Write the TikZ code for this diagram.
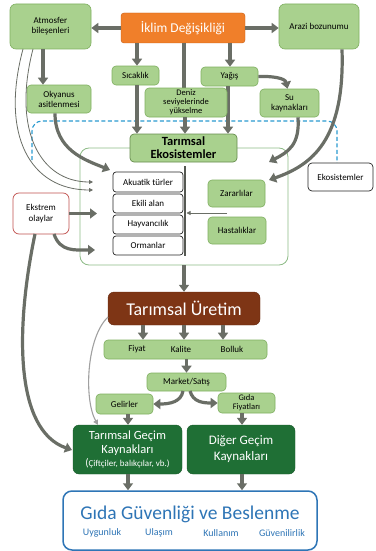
\documentclass[tikz,border=0pt]{standalone}
\usepackage{fontspec}
\setmainfont{Carlito}
\usetikzlibrary{arrows.meta,calc}
\definecolor{lgreen}{HTML}{A9D18E}
\definecolor{lgreenB}{HTML}{7FAF60}
\definecolor{dgreen}{HTML}{1F6F35}
\definecolor{orangeF}{HTML}{F07F2A}
\definecolor{orangeB}{HTML}{C55A11}
\definecolor{brownF}{HTML}{7E3515}
\definecolor{arrG}{HTML}{6A6E66}
\definecolor{thinG}{HTML}{A0A0A0}
\definecolor{blueB}{HTML}{2E75B6}
\definecolor{dashB}{HTML}{2A9AD0}
\definecolor{contB}{HTML}{8DBB86}
\definecolor{redB}{HTML}{C0504D}
\tikzset{
  lg/.style={draw=lgreenB, fill=lgreen, rounded corners=4pt, line width=0.6pt, inner sep=0pt, align=center, font=\fontsize{9}{10}\selectfont},
  wb/.style={draw=black!85, fill=white, rounded corners=3pt, line width=0.7pt, inner sep=0pt, align=center, font=\fontsize{9}{10}\selectfont},
  dg/.style={draw=dgreen!80!black, fill=dgreen, rounded corners=6pt, inner sep=0pt, align=center, text=white},
  ar/.style={draw=arrG, line width=3.2pt, -{Triangle[length=7pt,width=10pt]}},
  arn/.style={draw=arrG, line width=3.2pt},
  thin/.style={draw=arrG, line width=0.8pt, -{Triangle[length=4pt,width=4pt]}},
  thinl/.style={draw=thinG, line width=1.1pt, -{Triangle[length=5pt,width=5pt]}},
}
\begin{document}
\begin{tikzpicture}[x=1pt,y=-1pt]
\useasboundingbox (0,0) rectangle (375,551);
% dashed region
\draw[dashB, line width=1.1pt, dash pattern=on 4pt off 2.5pt, rounded corners=10pt] (32,160) -- (32,121) -- (337,121) -- (337,163);
% container
\node[draw=contB, fill=white, rounded corners=9pt, line width=0.8pt, minimum width=208pt, minimum height=117pt, inner sep=0pt] (cont) at (184,206.5) {};

% top nodes
\node[draw=orangeB, fill=orangeF, rounded corners=3pt, inner sep=0pt, minimum width=124pt, minimum height=30pt, text=white, font=\fontsize{13.5}{14}\selectfont] (iklim) at (183,28) {İklim Değişikliği};
\node[lg, minimum width=81pt, minimum height=45pt, rounded corners=6pt] (atm) at (50.5,26.5) {Atmosfer\\bileşenleri};
\node[lg, minimum width=80pt, minimum height=45pt, rounded corners=6pt] (arazi) at (319,26.5) {Arazi bozunumu};
\node[lg, minimum width=47pt, minimum height=19pt] (sic) at (135.5,75.5) {Sıcaklık};
\node[lg, minimum width=57pt, minimum height=19pt] (yag) at (229.5,76.5) {Yağış};
\node[lg, minimum width=64pt, minimum height=28pt] (okyanus) at (59,99) {Okyanus\\asitlenmesi};
\node[lg, minimum width=59pt, minimum height=28pt] (su) at (289.5,103) {Su\\kaynakları};

% arrows top
\draw[ar] (iklim.west) -- (iklim.west -| atm.east);
\draw[ar] (iklim.east) -- (iklim.east -| arazi.west);
\coordinate (sicTop) at (137,43);
\draw[ar] (sicTop) -- (sicTop |- sic.north);
\coordinate (yagTop) at (230,43);
\draw[ar] (yagTop) -- (yagTop |- yag.north);
\coordinate (denTop) at (184,43);
\draw[arn] (denTop) -- (184,95);
\coordinate (okTop) at (43,49);
\draw[ar] (okTop) -- (okTop |- okyanus.north);
\draw[ar] (yag.east) .. controls (272,76) and (285,78) .. ([xshift=-2pt]su.north);

\coordinate (sicB) at (137,85);
\coordinate (yagB) at (228,86);
\coordinate (denB) at (185,110);
\node[draw=lgreenB!80!black, fill=lgreen, rounded corners=4pt, line width=0.7pt, inner sep=0pt, minimum width=107pt, minimum height=28pt, align=center, font=\fontsize{12.5}{13}\selectfont\bfseries] (tareko) at (183.5,148) {Tarımsal\\Ekosistemler};
\draw[ar] (sicB) -- (sicB |- tareko.north);
\draw[ar] (yagB) -- (yagB |- tareko.north);
\node[lg, minimum width=82pt, minimum height=29pt, font=\fontsize{8.5}{9}\selectfont] (deniz) at (186,102.5) {Deniz\\seviyelerinde\\yükselme};
\draw[ar] (deniz.south -| denB) -- (denB |- tareko.north);

% Ekosistemler box
\node[wb, rounded corners=4pt, minimum width=65pt, minimum height=28pt] (ekos) at (340.5,177) {Ekosistemler};

% inner boxes
\node[wb, minimum width=70pt, minimum height=20pt] (aku) at (148,182) {Akuatik türler};
\node[wb, minimum width=70pt, minimum height=19pt] (ekili) at (148,203.5) {Ekili alan};
\node[wb, minimum width=70pt, minimum height=19pt] (hay) at (148,224.5) {Hayvancılık};
\node[wb, minimum width=70pt, minimum height=19pt] (orm) at (148,245.5) {Ormanlar};
\coordinate (vT) at (185,166);
\coordinate (vB) at (185,256);
\draw[arrG!80!black, line width=1.2pt] (vT) -- (vB);
\node[lg, minimum width=57pt, minimum height=27pt] (zarar) at (236.5,193.5) {Zararlılar};
\node[lg, minimum width=58pt, minimum height=27pt] (hasta) at (237,230.5) {Hastalıklar};
\coordinate (zhA) at (227,213);
\coordinate (zhB) at (186.5,213);
\draw[thin] (zhA) -- (zhB);

% Ekstrem
\node[draw=redB, fill=white, rounded corners=6pt, line width=0.7pt, inner sep=0pt, minimum width=56pt, minimum height=41pt, align=center, font=\fontsize{9}{11}\selectfont] (ekstrem) at (41,213.5) {Ekstrem\\olaylar};

% curves into container
\coordinate (okE) at (110,170);
\draw[ar] ([xshift=-4pt]okyanus.south) .. controls (55,150) and (85,160) .. (okE);
\coordinate (atA) at (93,182);
\coordinate (atB) at (93,190);
\draw[thin] (33,49) .. controls (12,130) and (40,182) .. (atA);
\draw[thin] (23,49) .. controls (0,135) and (30,190) .. (atB);
\coordinate (suE) at (269,162);
\coordinate (arE) at (269,180);
\draw[ar] ([xshift=8.5pt]su.south) .. controls (300,145) and (288,152) .. (suE);
\draw[ar] ([xshift=23pt]arazi.south) .. controls (345,140) and (312,165) .. (arE);
\coordinate (exA) at (97,213.5);
\draw[ar] (ekstrem.east) -- (exA);
\coordinate (exB) at (95,250);
\draw[ar] (54,234) .. controls (60,252) and (75,250) .. (exB);

% production
\node[draw=brownF!80!black, fill=brownF, rounded corners=6pt, inner sep=0pt, minimum width=152pt, minimum height=33pt, text=white, font=\fontsize{18}{19}\selectfont] (uretim) at (184,308.5) {Tarımsal Üretim};
\draw[ar] (cont.south) -- (uretim.north);
\node[lg, minimum width=163pt, minimum height=19pt] (bar) at (185.5,349.5) {};
\node[font=\fontsize{9}{10}\selectfont, inner sep=0pt] (fiyat) at (137,349.5) {Fiyat};
\node[font=\fontsize{9}{10}\selectfont, inner sep=0pt] (kalite) at (181,349.5) {Kalite};
\node[font=\fontsize{9}{10}\selectfont, inner sep=0pt] (bolluk) at (232,349.5) {Bolluk};
\coordinate (u1) at (143,325);
\coordinate (u2) at (184,325);
\coordinate (u3) at (223,325);
\draw[ar] (u1) -- (u1 |- bar.north);
\draw[ar] (u2) -- (u2 |- bar.north);
\draw[ar] (u3) -- (u3 |- bar.north);
\node[lg, minimum width=79pt, minimum height=18pt] (market) at (186.5,382) {Market/Satış};
\draw[ar] (bar.south -| market.north) -- (market.north);
\node[lg, minimum width=57pt, minimum height=20pt] (gelir) at (124.5,404) {Gelirler};
\node[lg, minimum width=57pt, minimum height=20pt, font=\fontsize{8.5}{9}\selectfont] (gfiyat) at (246.5,403) {Gıda\\Fiyatları};
\draw[ar] (183,391) .. controls (181,402) and (170,404) .. (gelir.east);
\draw[ar] (190,391) .. controls (193,402) and (203,403) .. (gfiyat.west);

% livelihoods
\node[dg, minimum width=109pt, minimum height=49pt, font=\fontsize{12.5}{14}\selectfont] (tgecim) at (127.5,449.5) {Tarımsal Geçim\\Kaynakları\\[-1pt]\fontsize{9}{10}\selectfont{\fontsize{11}{10}\selectfont(}Çiftçiler, balıkçılar, vb.)};
\node[dg, minimum width=108pt, minimum height=49pt, font=\fontsize{13}{16}\selectfont] (diger) at (241,449.5) {Diğer Geçim\\Kaynakları};
\coordinate (g1) at (128,414);
\coordinate (g2) at (242,413);
\draw[ar] (g1) -- (g1 |- tgecim.north);
\draw[ar] (g2) -- (g2 |- diger.north);
\coordinate (exC) at (72,450);
\draw[ar] (35,234) .. controls (15,330) and (15,430) .. (exC);
\coordinate (urC) at (98,425);
\draw[thinl] (108,317) .. controls (86,338) and (84,400) .. (urC);

% food security
\node[draw=blueB, fill=white, line width=1.5pt, rounded corners=9pt, inner sep=0pt, minimum width=254pt, minimum height=59pt] (gida) at (190,520.5) {};
\node[text=blueB, font=\fontsize{19.5}{21}\selectfont, inner sep=0pt] (gidaT) at (190,514) {Gıda Güvenliği ve Beslenme};
\node[text=blueB, font=\fontsize{10}{11}\selectfont, inner sep=0pt] (uyg) at (102,533) {Uygunluk};
\node[text=blueB, font=\fontsize{10}{11}\selectfont, inner sep=0pt] (ula) at (159,533) {Ulaşım};
\node[text=blueB, font=\fontsize{10}{11}\selectfont, inner sep=0pt] (kul) at (221,533) {Kullanım};
\node[text=blueB, font=\fontsize{10}{11}\selectfont, inner sep=0pt] (guv) at (282,533) {Güvenilirlik};
\coordinate (h1) at (128,474);
\coordinate (h2) at (242,474);
\draw[ar] (h1) -- (h1 |- gida.north);
\draw[ar] (h2) -- (h2 |- gida.north);
\end{tikzpicture}
\end{document}
